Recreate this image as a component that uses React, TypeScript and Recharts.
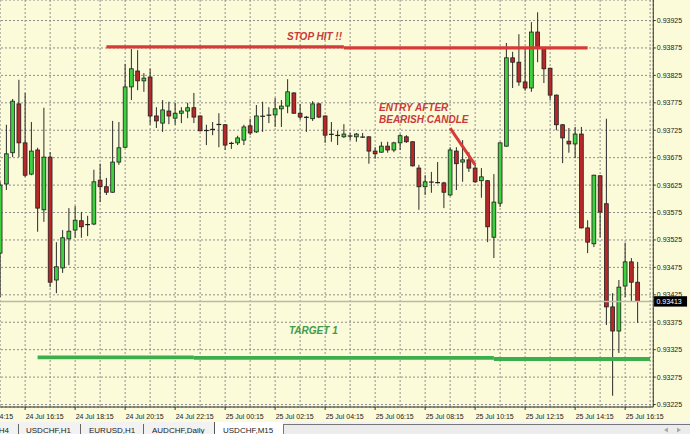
import React from 'react';
import { ComposedChart, Bar, XAxis, YAxis, CartesianGrid, ReferenceLine } from 'recharts';

// ---- data (USDCHF M15, 24 Jul 15:15 -> 25 Jul 16:45) ----
const OPEN = [
  0.93501, 0.93627, 0.93684, 0.93773, 0.93702, 0.93645, 0.93689, 0.9358, 0.93676, 0.93452,
  0.93474, 0.93527, 0.93543, 0.9356, 0.93554, 0.93554, 0.93634, 0.93622, 0.93612, 0.93667,
  0.93694, 0.93804, 0.93833, 0.93815, 0.93822, 0.93751, 0.93738, 0.9376, 0.93747, 0.93756,
  0.9376, 0.93766, 0.93751, 0.93725, 0.93727, 0.93736, 0.93735, 0.937, 0.93702, 0.93707,
  0.93733, 0.93722, 0.93751, 0.93753, 0.93753, 0.93764, 0.93769, 0.93793, 0.93756, 0.93749,
  0.93746, 0.93773, 0.93751, 0.93718, 0.93716, 0.93713, 0.93715, 0.93713, 0.93713, 0.93713,
  0.93687, 0.93685, 0.93696, 0.93689, 0.93702, 0.93713, 0.93704, 0.93656, 0.93622, 0.93631,
  0.93629, 0.93629, 0.93607, 0.93687, 0.93667, 0.93671, 0.93656, 0.93633, 0.93633, 0.9353,
  0.93592, 0.93696, 0.93857, 0.93849, 0.93813, 0.93802, 0.93904, 0.93875, 0.93838, 0.93789,
  0.93735, 0.93705, 0.937, 0.93718, 0.93547, 0.93518, 0.93642, 0.93591, 0.93403, 0.93359,
  0.93441, 0.93485, 0.93448,
];
const HIGH = [
  0.93631, 0.93735, 0.93782, 0.93817, 0.93793, 0.9374, 0.93693, 0.93766, 0.93685, 0.93521,
  0.93543, 0.93583, 0.93587, 0.93576, 0.93569, 0.93653, 0.93664, 0.93638, 0.93742, 0.9374,
  0.93846, 0.93873, 0.93871, 0.93829, 0.93837, 0.93767, 0.9378, 0.93777, 0.93775, 0.93767,
  0.93775, 0.93793, 0.93752, 0.93735, 0.9374, 0.93756, 0.93736, 0.93704, 0.93715, 0.93735,
  0.93746, 0.93771, 0.93777, 0.93767, 0.93784, 0.9378, 0.93818, 0.93794, 0.93773, 0.93751,
  0.93778, 0.93775, 0.93752, 0.9374, 0.93724, 0.93736, 0.9372, 0.9372, 0.9372, 0.93714,
  0.93694, 0.93704, 0.93704, 0.93704, 0.93718, 0.93716, 0.93705, 0.93662, 0.93643, 0.93649,
  0.93667, 0.93631, 0.93694, 0.93694, 0.93707, 0.93685, 0.93662, 0.93656, 0.93634, 0.93645,
  0.93703, 0.93884, 0.93868, 0.939, 0.93875, 0.93922, 0.9394, 0.93876, 0.93839, 0.9379,
  0.93736, 0.93729, 0.93731, 0.93731, 0.93561, 0.93644, 0.93643, 0.93746, 0.93428, 0.93452,
  0.9352, 0.93492, 0.93485,
];
const LOW = [
  0.93421, 0.93616, 0.93676, 0.93676, 0.9364, 0.93643, 0.9354, 0.93558, 0.93439, 0.93428,
  0.93465, 0.93479, 0.93529, 0.93529, 0.93532, 0.93552, 0.93594, 0.93607, 0.93611, 0.93662,
  0.93693, 0.9378, 0.93798, 0.93795, 0.93735, 0.93729, 0.93722, 0.93736, 0.93735, 0.93738,
  0.93747, 0.93738, 0.93723, 0.93698, 0.93716, 0.93694, 0.93689, 0.93691, 0.93698, 0.93698,
  0.93716, 0.9372, 0.93722, 0.93738, 0.93731, 0.93731, 0.93756, 0.93755, 0.93744, 0.93722,
  0.93742, 0.93747, 0.93702, 0.93704, 0.93698, 0.93711, 0.93707, 0.93704, 0.93711, 0.93664,
  0.93673, 0.93684, 0.93684, 0.93685, 0.93689, 0.93702, 0.93659, 0.9358, 0.93607, 0.93611,
  0.93628, 0.93583, 0.93605, 0.93616, 0.93631, 0.93649, 0.93629, 0.93602, 0.93521, 0.93492,
  0.93585, 0.93695, 0.93802, 0.93806, 0.93797, 0.93795, 0.93849, 0.93811, 0.9378, 0.93725,
  0.93665, 0.93684, 0.93674, 0.93546, 0.93501, 0.93512, 0.9353, 0.9337, 0.93241, 0.93319,
  0.93421, 0.93412, 0.93374,
];
const CLOSE = [
  0.93625, 0.93682, 0.93778, 0.93702, 0.93643, 0.93687, 0.93583, 0.93676, 0.93448, 0.93476,
  0.93529, 0.93541, 0.93561, 0.93549, 0.93552, 0.93631, 0.93622, 0.93612, 0.93667, 0.93693,
  0.93804, 0.93837, 0.93815, 0.9382, 0.93751, 0.93742, 0.93762, 0.93751, 0.93756, 0.9376,
  0.93766, 0.93749, 0.93724, 0.93724, 0.93726, 0.93735, 0.93698, 0.93702, 0.93711, 0.93731,
  0.9372, 0.93751, 0.9375, 0.93752, 0.93764, 0.93769, 0.93795, 0.93756, 0.93749, 0.93748,
  0.93773, 0.93749, 0.93716, 0.93717, 0.93715, 0.93718, 0.93714, 0.93718, 0.93712, 0.93687,
  0.93682, 0.93696, 0.93689, 0.93702, 0.93715, 0.93704, 0.9366, 0.93622, 0.93631, 0.9363,
  0.9363, 0.93612, 0.93689, 0.93664, 0.93671, 0.93656, 0.93631, 0.9364, 0.93549, 0.93594,
  0.93702, 0.93857, 0.93849, 0.93813, 0.93802, 0.93904, 0.93875, 0.93837, 0.93789, 0.93735,
  0.93711, 0.937, 0.93718, 0.93547, 0.93521, 0.93643, 0.93576, 0.93403, 0.93359, 0.93439,
  0.93485, 0.93448, 0.93413,
];

const Y_TICKS = [
  0.93225, 0.93275, 0.93325, 0.93375, 0.93425, 0.93475, 0.93525, 0.93575,
  0.93625, 0.93675, 0.93725, 0.93775, 0.93825, 0.93875, 0.93925,
];
const Y_DOMAIN: [number, number] = [0.932205, 0.939624];

const STOP_LEVELS = [0.93877, 0.93875];
const TARGET_LEVELS = [0.93311, 0.9331, 0.93308];
const ENTRY_ARROW = [0.93729, 0.93662];
const LAST_PRICE = 0.93413;

const TOTAL_SLOTS = 105; // 103 bars + 2 empty slots (chart shift)
const START_MIN = 15 * 60 + 15; // 24 Jul 15:15
const pad = (n: number) => (n < 10 ? '0' + n : '' + n);
const TIMES: string[] = Array.from({ length: TOTAL_SLOTS }, (_, i) => {
  const m = START_MIN + 15 * i;
  const day = 24 + Math.floor(m / 1440);
  const mm = m % 1440;
  return `${day} Jul ${pad(Math.floor(mm / 60))}:${pad(mm % 60)}`;
});
const X_TICKS = TIMES.filter((_, i) => i % 4 === 0);

const data = TIMES.map((t, i) =>
  i < OPEN.length
    ? { t, o: OPEN[i], h: HIGH[i], l: LOW[i], c: CLOSE[i], range: [LOW[i], HIGH[i]] }
    : { t }
);

const FONT = '"Liberation Sans", Arial, sans-serif';
const GREEN = '#3fd03f';
const RED = '#b82828';
const LINE_RED = '#d83a3a';
const LINE_GREEN = '#3cae4b';

const Candle = (props: any) => {
  const { x, y, width, height, payload } = props;
  if (!payload || payload.o == null || !height) return null;
  const { o, h, l, c } = payload;
  const top = Math.min(y, y + height);
  const span = Math.abs(height);
  const py = (v: number) => top + ((h - v) / (h - l)) * span;
  const cx = x + width / 2;
  const yo = py(o);
  const yc = py(c);
  const bt = Math.min(yo, yc);
  const bh = Math.abs(yo - yc);
  return (
    <g>
      <line x1={cx} x2={cx} y1={top} y2={top + span} stroke="#2a2a2a" strokeWidth={1} />
      {bh < 1.2 ? (
        <line x1={cx - 2.4} x2={cx + 2.4} y1={(yo + yc) / 2} y2={(yo + yc) / 2} stroke="#1e1e1e" strokeWidth={1.2} />
      ) : (
        <rect x={cx - 1.9} y={bt} width={3.8} height={bh} fill={c >= o ? GREEN : RED} stroke="#1e1e1e" strokeWidth={0.8} />
      )}
    </g>
  );
};

const XTick = (props: any) => {
  const { x, y, payload } = props;
  const idx = TIMES.indexOf(payload.value);
  if (idx % 8 !== 4) return null;
  return (
    <g>
      <line x1={x} x2={x} y1={y} y2={y + 3} stroke="#333" strokeWidth={1} />
      <text x={x + 0.5} y={y + 11.5} fontSize={7} fill="#222" fontFamily={FONT}>
        {payload.value}
      </text>
    </g>
  );
};

const YTick = (props: any) => {
  const { x, y, payload } = props;
  return (
    <g>
      <line x1={x} x2={x + 2.5} y1={y} y2={y} stroke="#333" strokeWidth={1} />
      <text x={x + 3.6} y={y + 2.5} fontSize={7} fill="#222" fontFamily={FONT}>
        {Number(payload.value).toFixed(5)}
      </text>
    </g>
  );
};

const PriceTag = (props: any) => {
  const vb = props.viewBox || {};
  const x = (vb.x || 0) + (vb.width || 0) + 0.8;
  const y = vb.y || 0;
  return (
    <g>
      <rect x={x} y={y - 5.2} width={33} height={10.4} fill="#000" />
      <text x={x + 2.4} y={y + 2.5} fontSize={7} fill="#fff" fontFamily={FONT}>
        {LAST_PRICE.toFixed(5)}
      </text>
    </g>
  );
};

export default function App() {
  const italic = { fontFamily: FONT, fontWeight: 700, fontStyle: 'italic' as const, fontSize: 10 };
  return (
    <div style={{ position: 'absolute', left: 0, top: 0, width: 690, height: 434, overflow: 'hidden', background: '#fbfbd9' }}>
      <div style={{ position: 'absolute', left: -3, top: 0 }}>
        <ComposedChart width={693} height={434} data={data} margin={{ top: 0, right: 0, bottom: 0, left: 0 }}>
          <CartesianGrid stroke="#8e8e8e" strokeDasharray="2 2" />
          <XAxis
            dataKey="t"
            type="category"
            ticks={X_TICKS}
            interval={0}
            height={27}
            tickLine={false}
            tickSize={0}
            tickMargin={0}
            axisLine={{ stroke: '#333' }}
            tick={(p: any) => <XTick {...p} />}
          />
          <YAxis
            orientation="right"
            type="number"
            domain={Y_DOMAIN}
            allowDataOverflow
            ticks={Y_TICKS}
            interval={0}
            width={36.75}
            tickLine={false}
            tickSize={0}
            tickMargin={0}
            axisLine={{ stroke: '#333' }}
            tick={(p: any) => <YTick {...p} />}
          />
          <ReferenceLine y={LAST_PRICE} stroke="#b8b8ab" strokeWidth={1.5} label={(p: any) => <PriceTag {...p} />} />
          <ReferenceLine
            segment={[{ x: TIMES[17], y: STOP_LEVELS[0] }, { x: TIMES[55], y: STOP_LEVELS[0] }]}
            stroke={LINE_RED}
            strokeWidth={3.2}
          />
          <ReferenceLine
            segment={[{ x: TIMES[55], y: STOP_LEVELS[1] }, { x: TIMES[94], y: STOP_LEVELS[1] }]}
            stroke={LINE_RED}
            strokeWidth={3.2}
          />
          <ReferenceLine
            segment={[{ x: TIMES[6], y: TARGET_LEVELS[0] }, { x: TIMES[31], y: TARGET_LEVELS[0] }]}
            stroke={LINE_GREEN}
            strokeWidth={3.8}
          />
          <ReferenceLine
            segment={[{ x: TIMES[31], y: TARGET_LEVELS[1] }, { x: TIMES[79], y: TARGET_LEVELS[1] }]}
            stroke={LINE_GREEN}
            strokeWidth={3.8}
          />
          <ReferenceLine
            segment={[{ x: TIMES[79], y: TARGET_LEVELS[2] }, { x: TIMES[104], y: TARGET_LEVELS[2] }]}
            stroke={LINE_GREEN}
            strokeWidth={3.8}
          />
          <ReferenceLine
            segment={[{ x: TIMES[72], y: ENTRY_ARROW[0] }, { x: TIMES[76], y: ENTRY_ARROW[1] }]}
            stroke={LINE_RED}
            strokeWidth={3}
          />
          <Bar dataKey="range" isAnimationActive={false} shape={(p: any) => <Candle {...p} />} />
        </ComposedChart>
      </div>
      <svg width={690} height={434} style={{ position: 'absolute', left: 0, top: 0, pointerEvents: 'none' }}>
        <text x={287} y={39.5} fill="#c83a3c" {...italic}>STOP HIT !!</text>
        <text x={379} y={110.5} fill="#c83a3c" {...italic}>ENTRY AFTER</text>
        <text x={379} y={122.5} fill="#c83a3c" {...italic}>BEARISH CANDLE</text>
        <text x={289} y={333.5} fill="#3d9c4d" {...italic}>TARGET 1</text>
        <text x={-25} y={418.5} fontSize={7} fill="#222" fontFamily={FONT}>24 Jul 14:15</text>

        <rect x={0} y={422} width={690} height={12} fill="#f2f2f2" />
        <rect x={214} y={422} width={69} height={12} fill="#ffffff" />
        <line x1={214.5} x2={214.5} y1={422} y2={434} stroke="#555" />
        <rect x={283.5} y={424.5} width={420} height={12} fill="#ececec" stroke="#777" />
        <line x1={18.5} x2={18.5} y1={424} y2={434} stroke="#666" />
        <line x1={80.5} x2={80.5} y1={424} y2={434} stroke="#666" />
        <line x1={143.5} x2={143.5} y1={424} y2={434} stroke="#666" />
        <text x={9} y={432.5} fontSize={8} fill="#222" fontFamily={FONT} textAnchor="end">AUDCHF,H4</text>
        <text x={26} y={432.5} fontSize={8} fill="#222" fontFamily={FONT}>USDCHF,H1</text>
        <text x={89} y={432.5} fontSize={8} fill="#222" fontFamily={FONT}>EURUSD,H1</text>
        <text x={152} y={432.5} fontSize={8} fill="#222" fontFamily={FONT}>AUDCHF,Daily</text>
        <text x={223} y={432.5} fontSize={8} fill="#222" fontFamily={FONT}>USDCHF,M15</text>
        <polygon points="664,430 668,427.5 668,432.5" fill="#a8a8a8" />
        <polygon points="681,430 677,427.5 677,432.5" fill="#a8a8a8" />
      </svg>
    </div>
  );
}
